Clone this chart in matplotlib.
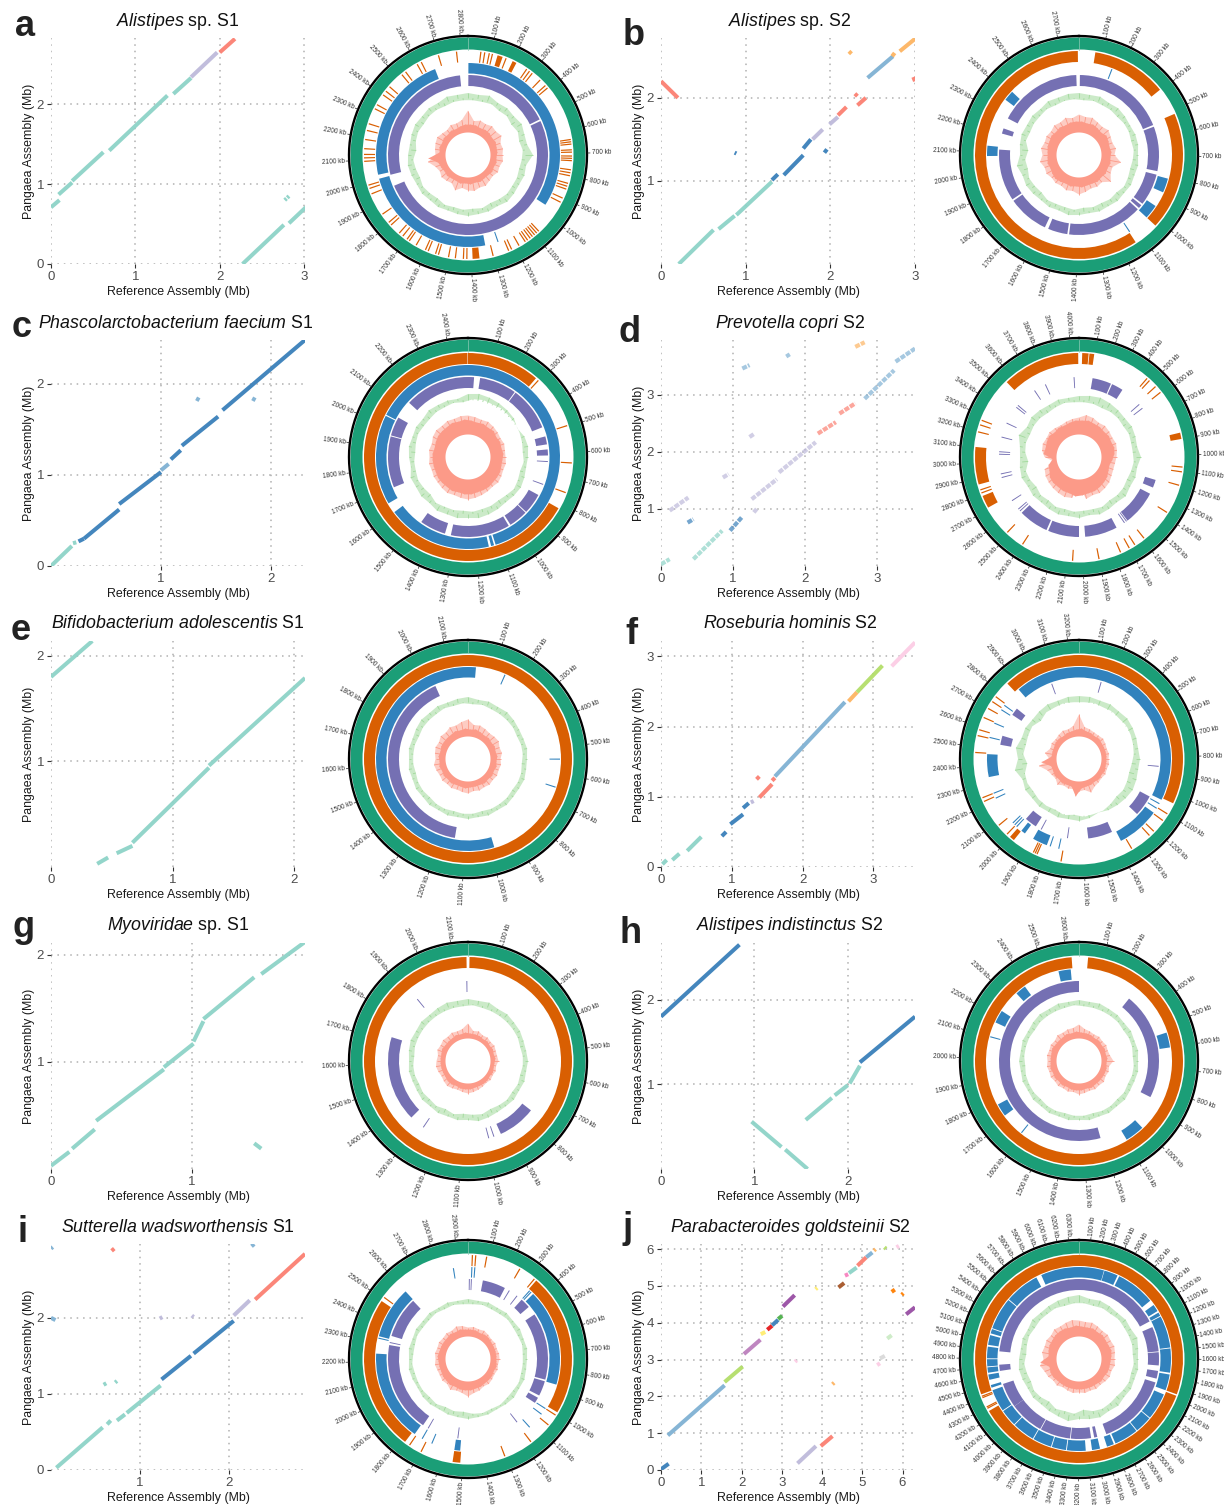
import numpy as np
import matplotlib
matplotlib.use("Agg")
import matplotlib.pyplot as plt

plt.rcParams["font.family"] = ["Liberation Sans", "DejaVu Sans"]
plt.rcParams["mathtext.fontset"] = "custom"
plt.rcParams["mathtext.rm"] = "Liberation Sans"
plt.rcParams["mathtext.it"] = "Liberation Sans:italic"

W, H = 1224, 1505

# colours of the alignment blocks
TE, BL, LA, SA, LB, OR, GR, PK = "#8dd3c7", "#3a80ba", "#bebada", "#fb8072", "#80b1d3", "#fdb462", "#b3de69", "#fccde5"
GY, MA, YE, RE, DG, PU, BR, DO, PT = "#d9d9d9", "#bc80bd", "#ffed6f", "#e41a1c", "#4daf4a", "#984ea3", "#a65628", "#ff7f00", "#f781bf"

RING_GREEN, RING_ORANGE, RING_BLUE, RING_PURPLE = "#1b9e77", "#d95f02", "#3182bd", "#7570b3"
GC_COL, SKEW_COL = "#a1d99b", "#fc9a88"

# dot plots: x0, x1, y0, y1 (Mb), colour
a_segs = [(0, .1, .71, .8, TE), (.09, .25, .87, 1.02, TE), (.25, .62, 1.04, 1.4, TE), (.69, 1.38, 1.42, 2.11, TE),
          (1.45, 1.66, 2.13, 2.33, TE), (1.66, 1.97, 2.34, 2.65, LA), (2.0, 2.18, 2.65, 2.82, SA),
          (2.27, 2.76, 0, .49, TE), (2.82, 3.02, .51, .71, TE), (2.77, 2.79, .8, .82, TE), (2.8, 2.82, .83, .85, TE)]
b_segs = [(.21, .62, 0, .41, TE), (.68, .87, .42, .58, TE), (.89, 1.31, .59, .99, TE), (1.31, 1.38, 1.01, 1.08, BL),
          (1.45, 1.68, 1.07, 1.31, BL), (1.68, 1.77, 1.39, 1.5, BL), (1.79, 1.91, 1.5, 1.62, LA), (1.99, 2.09, 1.68, 1.77, LA),
          (2.09, 2.19, 1.79, 1.89, SA), (2.32, 2.42, 1.91, 2.0, SA), (2.29, 2.32, 2.05, 2.02, SA), (2.44, 2.74, 2.24, 2.5, LB),
          (2.73, 2.76, 2.5, 2.54, OR), (2.82, 3.0, 2.56, 2.71, OR), (0, .2, 2.2, 2.0, SA), (.87, .89, 1.34, 1.33, BL),
          (1.93, 1.96, 1.34, 1.38, BL), (2.22, 2.25, 2.56, 2.53, OR), (2.98, 3.0, 2.25, 2.2, SA)]
c_segs = [(0, .19, 0, .22, TE), (.2, .23, .25, .26, TE), (.25, .3, .27, .3, BL), (.3, .62, .3, .62, BL), (.62, 1.0, .68, 1.03, BL),
          (1.0, 1.07, 1.05, 1.12, LB), (1.09, 1.18, 1.17, 1.27, BL), (1.19, 1.52, 1.32, 1.64, BL), (1.56, 2.31, 1.71, 2.48, BL),
          (1.32, 1.35, 1.84, 1.82, LB), (1.86, 1.83, 1.82, 1.84, LB)]
d_segs = [(0, .12, .03, .12, TE), (.45, .85, .12, .62, TE), (.96, 1.12, .62, .85, BL), (1.26, 1.61, 1.17, 1.52, LA), (1.64, 2.15, 1.64, 2.17, LA),
          (2.18, 2.43, 2.32, 2.52, SA), (2.48, 2.7, 2.67, 2.85, SA), (2.83, 3.24, 2.93, 3.43, LB), (3.26, 3.53, 3.58, 3.81, LB),
          (2.7, 2.83, 3.84, 3.92, OR), (.12, .38, .97, 1.2, LA), (.37, .45, .76, .82, BL), (1.13, 1.23, 3.46, 3.52, LB),
          (1.75, 1.78, 3.72, 3.66, LB), (.86, .94, 1.55, 1.61, LA), (1.23, 1.3, 2.26, 2.32, LA), (1.29, 1.33, .94, 1.0, LA)]
e_segs = [(0, .34, 1.8, 2.14, TE), (.38, .47, .03, .09, TE), (.54, .67, .13, .2, TE), (.67, 1.3, .23, .94, TE), (1.3, 2.09, .96, 1.79, TE)]
f_segs = [(.02, .08, .04, .1, TE), (.16, .26, .1, .19, TE), (.37, .57, .23, .43, TE), (.86, .92, .44, .5, BL), (.98, 1.16, .61, .75, BL),
          (1.16, 1.24, .84, .91, BL), (1.27, 1.31, .92, .94, LA), (1.39, 1.57, .99, 1.18, SA), (1.57, 1.61, 1.23, 1.27, SA),
          (1.35, 1.39, 1.29, 1.25, SA), (1.61, 2.6, 1.29, 2.35, LB), (2.65, 2.77, 2.36, 2.49, OR), (2.77, 3.13, 2.49, 2.87, GR), (3.26, 3.59, 2.86, 3.2, PK)]
g_segs = [(0, .13, .03, .16, TE), (.15, .31, .19, .37, TE), (.32, .8, .45, .93, TE), (.8, 1.01, .95, 1.17, TE), (1.01, 1.08, 1.19, 1.38, TE),
          (1.08, 1.44, 1.4, 1.79, TE), (1.49, 1.8, 1.82, 2.12, TE), (1.44, 1.49, .24, .19, TE)]
h_segs = [(0, .84, 1.8, 2.65, BL), (.97, 1.29, .56, .26, TE), (1.33, 1.57, .23, 0, TE), (1.55, 1.83, .58, .84, TE), (1.86, 2.0, .87, .99, TE),
          (2.02, 2.13, 1.01, 1.22, TE), (2.13, 2.72, 1.26, 1.8, BL)]
i_segs = [(.06, .58, .03, .56, TE), (.63, .67, .6, .65, TE), (.74, .83, .65, .73, TE), (.85, 1.23, .75, 1.11, TE), (1.24, 1.57, 1.19, 1.5, BL),
          (1.6, 2.05, 1.53, 1.96, BL), (2.05, 2.23, 2.03, 2.23, LA), (2.29, 2.85, 2.24, 2.84, SA), (.68, .71, 2.88, 2.91, SA), (2.25, 2.28, 2.94, 2.97, LB),
          (.0, .02, 2.91, 2.93, LB), (.59, .62, 1.12, 1.14, TE), (.72, .74, 1.15, 1.17, TE), (1.58, 1.6, 2.03, 2.01, LA), (1.22, 1.25, 1.99, 2.01, LA), (.0, .05, 2.0, 1.97, LB)]
j_segs = [(0, .19, .02, .17, BL), (.17, 1.58, .94, 2.3, LB), (1.58, 2.03, 2.39, 2.81, GR), (2.06, 2.47, 3.15, 3.54, MA), (2.48, 2.59, 3.69, 3.75, YE),
          (2.64, 2.76, 3.81, 3.92, RE), (2.76, 2.91, 3.93, 4.08, BL), (2.91, 3.01, 4.1, 4.19, DG), (3.03, 3.32, 4.44, 4.75, PU), (4.41, 4.55, 4.96, 5.08, BR),
          (4.57, 4.65, 5.28, 5.32, PT), (4.67, 4.86, 5.35, 5.5, TE), (4.88, 5.1, 5.55, 5.78, SA), (5.1, 5.25, 5.78, 5.91, LB), (5.29, 5.33, 5.96, 6.0, OR),
          (5.85, 5.91, 6.05, 6.09, PK), (5.55, 5.59, 6.05, 6.01, GR), (5.73, 5.81, 4.84, 4.9, DO), (5.98, 6.02, 4.76, 4.8, DO), (6.09, 6.31, 4.23, 4.42, PU),
          (5.62, 5.73, 3.57, 3.66, "#ccebc5"), (5.44, 5.56, 3.03, 3.1, GY), (5.37, 5.44, 2.85, 2.9, PK), (3.33, 3.37, 2.94, 2.98, PK), (4.26, 4.3, 2.33, 2.37, OR),
          (3.84, 3.88, 4.91, 4.95, YE), (3.39, 3.85, .18, .65, LA), (3.97, 4.26, .65, .92, SA)]

# ring tracks in kb: arcs as (start, end), ticks as single positions
a_len, b_len, c_len, d_len, e_len = 2830, 2780, 2470, 4050, 2170
f_len, g_len, h_len, i_len, j_len = 3250, 2150, 2650, 2950, 6390

a_orange = [(130, 153), (200, 218), (1365, 1395)]
a_orange_t = [56, 73, 93, 107, 169, 270, 285, 300, 345, 378, 392, 640, 650, 660, 685, 695, 712, 722, 732, 772, 785, 798, 832, 845, 858, 900, 920, 1078, 1090, 1102, 1114, 1126, 1140, 1152, 1184, 1220, 1234, 1305,
              1420, 1435, 1470, 1500, 1545, 1558, 1592, 1605, 1650, 1685, 1697, 1720, 1740, 1790, 1805, 1850, 1950, 1975, 1990, 2095, 2110, 2125, 2150, 2190, 2230, 2260, 2330, 2350, 2400, 2420, 2445, 2520, 2540, 2600, 2620, 2700, 2780]
a_blue = [(2, 965), (1330, 2005), (2025, 2665)]
a_blue_t = [1265]
a_purple = [(2, 500), (510, 1945), (2010, 2785)]
a_purple_t = []

b_orange = [(70, 395), (515, 1025), (1135, 2775)]
b_orange_t = []
b_blue = [(810, 880), (955, 1025), (2080, 2130), (2370, 2420)]
b_blue_t = [162, 1132]
b_purple = [(5, 525), (535, 785), (805, 985), (995, 1015), (1025, 1445), (1455, 1565), (1585, 1815), (1825, 2115), (2205, 2235), (2295, 2765)]
b_purple_t = []

c_orange = [(0, 280), (820, 2468)]
c_orange_t = [292, 497, 640, 755]
c_blue = [(0, 1115), (1122, 1135), (1145, 1600), (1645, 2035), (2040, 2470)]
c_blue_t = []
c_purple = [(60, 245), (250, 468), (515, 555), (580, 610), (812, 915), (920, 1015), (1025, 1320), (1350, 1480), (1700, 1955), (1960, 2055), (2145, 2470), (0, 30)]
c_purple_t = [640, 755]

d_orange = [(20, 60), (65, 95), (860, 900), (2710, 2790), (2865, 3100), (3555, 4045)]
d_orange_t = [460, 480, 533, 580, 1075, 1105, 1190, 1375, 1590, 1660, 1700, 1760, 1900, 2065, 2395, 2515, 2810, 2830, 3195, 3240, 3270]
d_blue = []
d_blue_t = []
d_purple = [(110, 265), (275, 370), (1200, 1265), (1320, 1605), (1710, 1975), (2025, 2280), (2295, 2540)]
d_purple_t = [550, 590, 1220, 1615, 1635, 2560, 2580, 2665, 2870, 2900, 3060, 3080, 3200, 3320, 3470, 3490, 3670, 3770, 4010]

e_orange = [(0, 2170)]
e_orange_t = []
e_blue = [(985, 2170), (0, 30)]
e_blue_t = [143, 543, 650]
e_purple = [(1142, 2025)]
e_purple_t = []

f_orange = [(2857, 3250), (0, 1040), (1975, 2000)]
f_orange_t = [1100, 1140, 1210, 1240, 1350, 1715, 1840, 1850, 1860, 2020, 2080, 2220, 2240, 2470, 2555, 2585, 2650, 2700, 2740, 2770]
f_blue = [(2880, 3250), (0, 1050), (1135, 1380), (1810, 1895), (1950, 1975), (2335, 2465)]
f_blue_t = [1075, 1105, 1740, 1790, 2010, 2025, 2040, 2210, 2240, 2560, 2645, 2730, 2760]
f_purple = [(1065, 1205), (1405, 1565), (1920, 2000), (2530, 2590), (2740, 2790)]
f_purple_t = [145, 860, 1700, 1880, 3070]

g_orange = [(5, 2145)]
g_orange_t = []
g_blue = []
g_blue_t = []
g_purple = [(765, 930), (1344, 1716)]
g_purple_t = [962, 985, 1278, 1915, 2145]

h_orange = [(37, 2620)]
h_orange_t = []
h_blue = [(530, 600), (1005, 1095), (1720, 1780), (2170, 2230), (2335, 2385), (2555, 2612)]
h_blue_t = [1610, 2100]
h_purple = [(285, 860), (1210, 2650)]
h_purple_t = []

i_orange = [(336, 990), (1780, 2490), (1510, 1545)]
i_orange_t = [20, 35, 85, 245, 325, 1005, 1060, 1170, 1305, 1695, 1755, 2510]
i_blue = [(369, 870), (1765, 2240), (2330, 2600), (1515, 1545)]
i_blue_t = [20, 35, 355, 345, 1005, 1040, 1130, 1665, 1720, 2320, 2875]
i_purple = [(88, 225), (345, 405), (460, 860), (870, 960), (975, 1010), (1755, 2295), (2350, 2595)]
i_purple_t = [8, 20, 255, 310, 1165, 1535, 1720, 2310]

j_orange = [(0, 1950), (1965, 4260), (4440, 6390)]
j_orange_t = [4290, 4305, 4405, 4420]
j_blue = [(0, 280), (285, 440), (460, 900), (960, 1040), (1060, 1100), (1110, 1470), (1480, 1750), (1770, 1950), (2000, 2300), (2310, 2500), (2510, 2780), (2800, 2880),
          (2960, 3050), (3120, 3330), (3340, 3500), (3510, 3720), (3730, 3980), (3990, 4180), (4190, 4440), (4470, 4500), (4560, 4620), (4640, 4700), (4710, 4790), (4800, 4930),
          (4950, 5060), (5080, 5130), (5140, 5500), (5510, 5900), (5960, 6390)]
j_blue_t = []
j_purple = [(0, 1100), (1180, 1500), (1510, 1680), (1750, 1850), (1900, 2840), (2960, 3000), (3040, 3300), (3310, 3700), (3710, 4150), (4150, 4470), (4640, 4720), (4890, 6390)]
j_purple_t = [1250]

# skew (pink, px above the inner circle) and GC (green, px off its circle), read every 5 degrees clockwise from the top
a_skew = [22, 8, 12, 8, 14, 7, 13, 8, 15, 8, 14, 7, 16, 8, 12, 7, 13, 7, 12, 6, 13, 7, 11, 6, 12, 7, 10, 6, 11, 6, 13, 7, 12, 6, 14, 7,
          13, 6, 11, 7, 15, 6, 10, 6, 11, 7, 12, 6, 10, 7, 12, 8, 18, 17, 10, 6, 11, 7, 12, 6, 13, 7, 11, 6, 10, 7, 12, 6, 11, 7, 13, 8]
a_gc = [5, -2, 4, -2, 6, -1, 3, -3, 4, -2, 3, -4, 5, -2, 3, -4, 3, -2, 8, -3, 2, -4, 3, -3, 2, -3, 3, -2, 4, -3, 2, -4, 3, -2, 3, -3,
        4, -2, 3, -3, 2, -2, 3, -4, 2, -3, 3, -2, 2, -4, 3, -3, 4, -2, 3, -5, 2, -3, 3, -2, 4, -3, 3, -2, 4, -2, 3, -3, 5, -2, 4, -2]
b_skew = [18, 11, 16, 10, 17, 11, 15, 10, 14, 9, 16, 11, 14, 10, 13, 9, 15, 10, 13, 9, 20, 10, 13, 9, 14, 10, 19, 9, 13, 10, 14, 9, 13, 9, 15, 10,
          17, 9, 14, 10, 15, 9, 13, 10, 14, 11, 13, 10, 15, 9, 14, 10, 17, 9, 14, 9, 16, 10, 14, 10, 15, 11, 14, 10, 16, 11, 15, 10, 17, 11, 15, 11]
b_gc = [5, -2, 4, -1, 5, -2, 3, -2, 4, -3, 3, -2, 2, -2, 3, -3, 3, -2, 2, -3, 3, -4, 2, -3, 3, -2, 2, -4, 3, -3, 2, -4, 3, -3, 2, -4,
        3, -2, 4, -3, 2, -3, 3, -2, 2, -4, 3, -3, 4, -2, 3, -4, 6, -3, 2, -6, 3, -2, 4, -3, 3, -2, 4, -2, 3, -1, 5, -2, 4, -1, 5, -1]
c_skew = [19, 14, 18, 13, 17, 14, 18, 13, 17, 14, 16, 12, 15, 13, 16, 12, 15, 13, 15, 12, 16, 12, 15, 13, 16, 13, 17, 13, 16, 14, 17, 14, 18, 14, 19, 15,
          20, 15, 19, 14, 18, 15, 19, 14, 18, 14, 17, 14, 17, 13, 16, 13, 17, 13, 16, 13, 17, 12, 16, 13, 18, 14, 19, 14, 18, 14, 19, 15, 18, 14, 19, 15]
c_gc = [6, 1, 7, 2, 6, 1, 5, 2, 4, 1, 3, 1, 0, 0, 3, -1, 4, -2, 3, -1, 2, -3, 3, -2, 4, -1, 3, -3, 2, -4, 3, -3, 4, -3, 5, -2,
        4, -3, 5, -2, 4, -2, 5, -1, 3, -4, 4, -3, 3, -2, 4, -3, 1, -3, 2, -4, 3, -3, 2, -2, 3, -3, 2, -3, 4, -2, 3, -2, 3, -1, 2, -2]
d_skew = [17, 14, 20, 15, 19, 14, 17, 14, 18, 13, 17, 14, 16, 13, 17, 14, 16, 13, 15, 11, 14, 9, 14, 10, 15, 12, 17, 13, 18, 14, 19, 15, 18, 15, 20, 16,
          8, 17, 19, 15, 20, 15, 19, 14, 18, 14, 17, 13, 16, 10, 14, 9, 3, 4, 12, 13, 15, 12, 16, 13, 15, 14, 16, 12, 15, 13, 14, 12, 15, 13, 16, 14]
d_gc = [4, -2, 5, -2, 6, -3, 5, -2, 4, -2, 3, -3, 4, -2, 3, -3, 2, -3, 5, -2, 2, -3, 3, -4, 2, -3, 4, -3, 2, -4, 3, -2, 4, -3, 2, -3,
        4, -2, 3, -3, 4, -2, 3, -4, 2, -3, 3, -5, 2, -3, 4, -2, 3, -6, 2, -3, 3, -2, 7, -3, 3, -2, 5, -2, 4, -3, 3, -2, 4, -1, 3, -2]
e_skew = [17, 7, 12, 8, 13, 7, 12, 6, 11, 7, 12, 6, 13, 7, 11, 6, 12, 7, 10, 6, 11, 7, 10, 6, 11, 7, 10, 6, 11, 7, 10, 6, 11, 6, 10, 6,
          12, 7, 11, 6, 10, 6, 11, 7, 10, 6, 11, 7, 10, 6, 11, 7, 12, 6, 10, 7, 11, 6, 12, 7, 11, 7, 13, 7, 12, 7, 14, 8, 13, 7, 15, 8]
e_gc = [5, -2, 3, -1, 4, -2, 3, -2, 4, -2, 3, -2, 2, -3, 2, -2, 3, -2, 2, -3, 2, -2, 3, -2, 2, -3, 2, -2, 3, -2, 2, -2, 3, -3, 2, -2,
        3, -2, 2, -3, 3, -2, 2, -2, 3, -3, 2, -2, 3, -2, 2, -3, 3, -2, 2, -2, 3, -2, 2, -3, 3, -2, 4, -2, 3, -2, 4, -1, 3, -2, 4, -1]
f_skew = [22, 8, 10, 6, 9, 6, 8, 5, 8, 6, 9, 5, 8, 5, 7, 5, 8, 5, 7, 5, 8, 5, 7, 6, 8, 5, 7, 6, 8, 5, 9, 6, 13, 6, 9, 7,
          10, 15, 8, 6, 9, 6, 8, 7, 11, 6, 8, 7, 9, 6, 11, 6, 18, 15, 7, 5, 12, 5, 8, 5, 9, 6, 8, 6, 9, 5, 10, 6, 9, 6, 11, 7]
f_gc = [6, 0, 6, 1, 5, 0, 6, 1, 5, 0, 6, 1, 5, 0, 4, -1, 3, -2, 4, -4, 3, -5, 4, -4, 5, -3, 4, -4, 3, -2, 2, 0, 0, 0, 3, 1,
        5, -1, 4, 1, 5, -1, 4, 0, 5, 0, 4, -1, 5, 0, 3, -1, 8, -5, 4, -1, 7, -2, 4, -1, 5, 0, 4, -3, 5, 0, 6, 0, 5, 1, 6, 0]
g_skew = [15, 5, 8, 5, 9, 5, 7, 4, 8, 5, 7, 4, 8, 5, 7, 4, 7, 5, 8, 4, 6, 4, 7, 5, 6, 4, 7, 5, 6, 5, 7, 5, 8, 5, 9, 6,
          10, 6, 9, 6, 8, 5, 9, 6, 10, 6, 9, 5, 8, 5, 9, 5, 10, 5, 9, 5, 8, 5, 10, 6, 9, 5, 10, 5, 9, 5, 10, 6, 9, 5, 10, 6]
g_gc = [5, -1, 4, -2, 5, -2, 3, -2, 4, -2, 3, -2, 3, -2, 2, -3, 2, -2, 3, -2, 2, -3, 3, -2, 2, -3, 3, -2, 2, -3, 2, -4, 3, -2, 4, -3,
        2, -4, 3, -2, 2, -4, 3, -2, 2, -3, 3, -2, 2, -3, 2, -2, 3, -2, 2, -3, 3, -2, 4, -2, 3, -2, 4, -2, 3, -2, 4, -2, 5, -2, 4, -2]
h_skew = [14, 6, 10, 6, 9, 6, 8, 5, 9, 6, 8, 5, 9, 6, 8, 5, 9, 6, 12, 5, 8, 6, 9, 6, 8, 6, 10, 6, 9, 6, 10, 7, 9, 6, 10, 7,
          11, 7, 9, 7, 10, 6, 9, 7, 10, 6, 9, 7, 10, 6, 9, 7, 10, 6, 9, 6, 10, 6, 9, 7, 10, 6, 9, 6, 11, 6, 10, 7, 11, 6, 11, 7]
h_gc = [4, -2, 3, -2, 4, -2, 3, -2, 3, -2, 2, -3, 3, -2, 2, -2, 3, -3, 2, -2, 3, -2, 2, -3, 2, -2, 3, -3, 2, -2, 3, -2, 2, -3, 3, -2,
        2, -2, 3, -3, 2, -2, 3, -2, 2, -3, 3, -2, 2, -2, 3, -2, 2, -3, 3, -2, 2, -2, 3, -2, 2, -3, 3, -2, 4, -2, 3, -2, 4, -2, 3, -1]
i_skew = [9, 7, 10, 7, 9, 6, 10, 7, 9, 7, 8, 6, 9, 6, 8, 6, 9, 6, 9, 6, 8, 7, 9, 6, 8, 7, 9, 7, 10, 7, 9, 8, 11, 8, 12, 9,
          15, 9, 12, 9, 11, 8, 13, 9, 10, 8, 11, 8, 10, 7, 10, 7, 11, 7, 10, 8, 11, 7, 10, 7, 11, 7, 10, 7, 11, 8, 10, 7, 12, 8, 11, 7]
i_gc = [3, -2, 2, -1, 3, -2, 2, -2, 3, -1, 2, -2, 3, -2, 2, -1, 3, -2, 2, -2, 2, -2, 3, -1, 2, -2, 3, -2, 2, -1, 1, -2, 2, -1, 2, -2,
        3, -4, 2, -3, 2, -4, 1, -2, 2, -3, 2, -2, 1, -2, 2, -2, 3, -1, 2, -2, 3, -2, 2, -1, 3, -2, 2, -2, 3, -1, 2, -2, 3, -1, 2, -2]
j_skew = [16, 10, 15, 10, 16, 11, 15, 10, 14, 11, 15, 10, 14, 10, 15, 11, 14, 10, 13, 9, 14, 9, 12, 9, 13, 8, 12, 9, 11, 8, 12, 8, 11, 8, 12, 8,
          11, 8, 12, 8, 11, 8, 10, 8, 12, 8, 11, 9, 13, 9, 14, 8, 17, 16, 13, 8, 15, 9, 14, 10, 15, 10, 14, 11, 16, 11, 15, 11, 16, 10, 17, 11]
j_gc = [7, -1, 4, -2, 5, -1, 4, -2, 3, -1, 4, -2, 3, -2, 5, -2, 3, -3, 2, -2, 3, -3, 2, -2, 3, -3, 2, -4, 4, -3, 3, -2, 5, -3, 4, -6,
        3, -2, 6, -3, 4, -2, 3, -5, 2, -3, 3, -2, 2, -4, 3, -3, 4, -2, 3, -4, 2, -3, 3, -2, 2, -3, 4, -2, 3, -2, 4, -1, 5, -2, 6, -1]

row_top = [0, 302, 603, 905, 1206]
row_centre = [155, 457, 759, 1061, 1359]
title_y = [21, 323, 624, 926, 1227]

panels = [
    ("a", r"$\mathit{Alistipes}$ sp. S1", a_segs, 3.01, 2.83, [0, 1, 2, 3], [0, 1, 2], a_len, a_orange, a_orange_t, a_blue, a_blue_t, a_purple, a_purple_t, a_skew, a_gc, 15, 36),
    ("b", r"$\mathit{Alistipes}$ sp. S2", b_segs, 3.0, 2.72, [0, 1, 2, 3], [1, 2], b_len, b_orange, b_orange_t, b_blue, b_blue_t, b_purple, b_purple_t, b_skew, b_gc, 623, 45),
    ("c", r"$\mathit{Phascolarctobacterium\ faecium}$ S1", c_segs, 2.31, 2.48, [1, 2], [0, 1, 2], c_len, c_orange, c_orange_t, c_blue, c_blue_t, c_purple, c_purple_t, c_skew, c_gc, 12, 337),
    ("d", r"$\mathit{Prevotella\ copri}$ S2", d_segs, 3.53, 3.96, [0, 1, 2, 3], [1, 2, 3], d_len, d_orange, d_orange_t, d_blue, d_blue_t, d_purple, d_purple_t, d_skew, d_gc, 619, 342),
    ("e", r"$\mathit{Bifidobacterium\ adolescentis}$ S1", e_segs, 2.09, 2.14, [0, 1, 2], [1, 2], e_len, e_orange, e_orange_t, e_blue, e_blue_t, e_purple, e_purple_t, e_skew, e_gc, 11, 640),
    ("f", r"$\mathit{Roseburia\ hominis}$ S2", f_segs, 3.59, 3.22, [0, 1, 2, 3], [0, 1, 2, 3], f_len, f_orange, f_orange_t, f_blue, f_blue_t, f_purple, f_purple_t, f_skew, f_gc, 625, 644),
    ("g", r"$\mathit{Myoviridae}$ sp. S1", g_segs, 1.8, 2.11, [0, 1], [1, 2], g_len, g_orange, g_orange_t, g_blue, g_blue_t, g_purple, g_purple_t, g_skew, g_gc, 12, 937),
    ("h", r"$\mathit{Alistipes\ indistinctus}$ S2", h_segs, 2.72, 2.67, [0, 1, 2], [1, 2], h_len, h_orange, h_orange_t, h_blue, h_blue_t, h_purple, h_purple_t, h_skew, h_gc, 619, 943),
    ("i", r"$\mathit{Sutterella\ wadsworthensis}$ S1", i_segs, 2.85, 2.97, [1, 2], [0, 1, 2], i_len, i_orange, i_orange_t, i_blue, i_blue_t, i_purple, i_purple_t, i_skew, i_gc, 17, 1242),
    ("j", r"$\mathit{Parabacteroides\ goldsteinii}$ S2", j_segs, 6.31, 6.14, [0, 1, 2, 3, 4, 5, 6], [0, 1, 2, 3, 4, 5, 6], j_len, j_orange, j_orange_t, j_blue, j_blue_t, j_purple, j_purple_t, j_skew, j_gc, 623, 1238),
]


def box(x0, y0, x1, y1, **kw):
    # axes from pixel corners, y measured from the top
    return fig.add_axes([x0 / W, 1 - y1 / H, (x1 - x0) / W, (y1 - y0) / H], **kw)


def arcs(ax, items, r0, r1, total, col):
    for s, e in items:
        t0, t1 = s / total * 2 * np.pi, e / total * 2 * np.pi
        ax.bar((t0 + t1) / 2, r1 - r0, width=t1 - t0, bottom=r0, color=col, linewidth=0)


def ticks(ax, items, r0, r1, total, col):
    w = np.deg2rad(0.7)
    for p in items:
        ax.bar(p / total * 2 * np.pi, r1 - r0, width=w, bottom=r0, color=col, linewidth=0)


fig = plt.figure(figsize=(W / 100, H / 100), dpi=100)

for n, p in enumerate(panels):
    letter, title, segs, xmax, ymax, xt, yt, total, orange, orange_t, blue, blue_t, purple, purple_t, skew, gc, lx, ly = p
    row, col = n // 2, n % 2
    top = row_top[row]
    left = 51 if col == 0 else 661

    # dot plot
    ax = box(left, top + 38, left + 254, top + 264)
    for x0, x1, y0, y1, c in segs:
        if letter == "d":
            ax.plot([x0, x1], [y0, y1], color=c, lw=3.0, alpha=0.7, ls=(0, (1.2, 0.3)), solid_capstyle="butt")
        else:
            ax.plot([x0, x1], [y0, y1], color=c, lw=2.9, alpha=0.95, solid_capstyle="butt")
    ax.set_xlim(0, xmax)
    ax.set_ylim(0, ymax)
    ax.set_xticks(xt)
    ax.set_yticks(yt)
    ax.grid(True, color="#b0b0b0", lw=1.1, ls=(0, (1, 3.2)))
    ax.set_axisbelow(True)
    for s in ax.spines.values():
        s.set_visible(False)
    ax.tick_params(length=3, width=0.8, color="#333333", labelcolor="#4d4d4d", labelsize=9.5, pad=2)
    ax.set_xlabel("Reference Assembly (Mb)", fontsize=8.9, color="#1a1a1a", labelpad=2.2)
    ax.set_ylabel("Pangaea Assembly (Mb)", fontsize=8.9, color="#1a1a1a", labelpad=1)

    fig.text((176 if letter == "c" else 178 if col == 0 else 790) / W, 1 - title_y[row] / H, title,
             fontsize=12.8, ha="center", va="center", color="#111111")
    fig.text(lx / W, 1 - ly / H, letter, fontsize=26, fontweight="bold", ha="left", va="baseline", color="#222222")

    # circular genome map
    cx = 468 if col == 0 else 1079
    cy = row_centre[row]
    pol = box(cx - 120, cy - 120, cx + 120, cy + 120, projection="polar")
    pol.set_theta_zero_location("N")
    pol.set_theta_direction(-1)
    pol.set_rlim(0, 120)
    pol.set_axis_off()

    th_full = np.linspace(0, 2 * np.pi, 361)
    arcs(pol, [(0, total)], 105.5, 117.5, total, RING_GREEN)
    pol.plot([0, 0], [105.5, 117.5], color="#8ccab5", lw=0.5)
    pol.plot(th_full, np.full(361, 119), color="black", lw=1.7, clip_on=False)

    arcs(pol, orange, 93, 104, total, RING_ORANGE)
    ticks(pol, orange_t, 93, 104, total, RING_ORANGE)
    arcs(pol, blue, 81.5, 92, total, RING_BLUE)
    ticks(pol, blue_t, 81.5, 92, total, RING_BLUE)
    arcs(pol, purple, 69, 80, total, RING_PURPLE)
    ticks(pol, purple_t, 69, 80, total, RING_PURPLE)

    # GC and skew profiles: pale band between the read highs and lows, thin hairs at each value
    th = np.deg2rad(np.arange(len(gc) + 1) * 5.0)
    gc_v = np.array(gc + gc[:1], dtype=float)
    th_hi, gc_hi = np.r_[th[::2], 2 * np.pi], np.r_[gc_v[::2], gc_v[0]]
    th_lo, gc_lo = np.r_[th[1::2], th[1] + 2 * np.pi], np.r_[gc_v[1::2], gc_v[1]]
    pol.fill(np.r_[th_hi, th_lo[::-1]], 57 + np.r_[gc_hi, gc_lo[::-1]], color=GC_COL, lw=0, alpha=0.55)
    pol.vlines(th[:-1], 57, 57 + gc_v[:-1], color=GC_COL, lw=0.6)

    sk_v = np.array(skew + skew[:1], dtype=float)
    sk_hi = np.r_[sk_v[::2], sk_v[0]]
    sk_lo = np.r_[sk_v[1::2], sk_v[1]]
    pol.fill(th_hi, 22.5 + sk_hi, color=SKEW_COL, lw=0, alpha=0.5, zorder=2)
    pol.fill(th_lo, 22.5 + sk_lo, color=SKEW_COL, lw=0, zorder=2)
    pol.vlines(th[:-1], 22.5, 22.5 + sk_v[:-1], color=SKEW_COL, lw=0.6, zorder=2)
    pol.fill(th_full, np.full(361, 22.5), color="white", lw=0, zorder=3)

    # kb ticks and labels
    for kb in range(100, total, 100):
        t = kb / total * 2 * np.pi
        deg = np.rad2deg(t)
        pol.plot([t, t], [119.5, 122], color="#222222", lw=0.5, clip_on=False)
        if deg < 180:
            rot, ha = 90 - deg, "left"
        else:
            rot, ha = 270 - deg, "right"
        pol.text(t, 123.5, f"{kb} kb", fontsize=4.7, color="#333333", rotation=rot, ha=ha, va="center",
                 rotation_mode="anchor", clip_on=False)
    pol.set_rlim(0, 120)

fig.savefig("out.png", dpi=100)
